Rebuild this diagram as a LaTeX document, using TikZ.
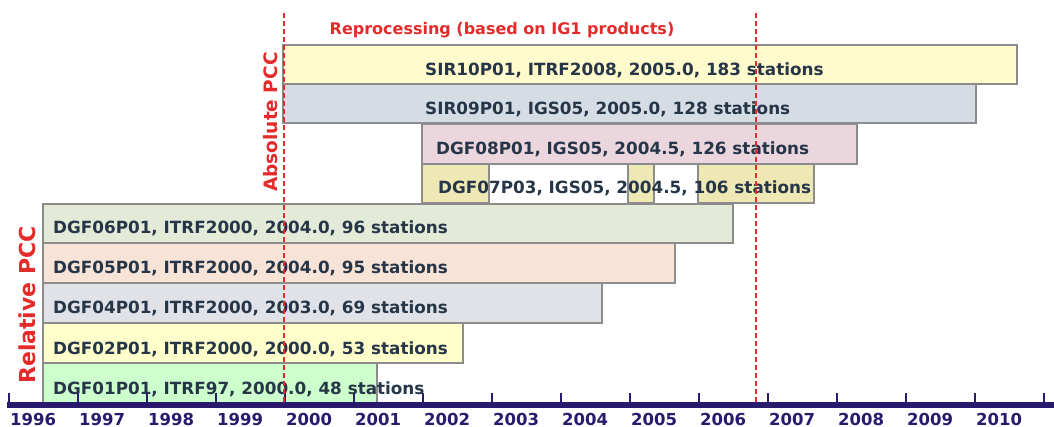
\documentclass[tikz,border=0pt]{standalone}
\usepackage{fontspec}
\setmainfont{DejaVu Sans}
\usetikzlibrary{calc}

\definecolor{axisblue}{HTML}{2A1A6E}
\definecolor{pccred}{HTML}{E32B2B}
\definecolor{bartext}{HTML}{263648}
\definecolor{barline}{HTML}{8C8C8C}
\definecolor{fillsirten}{HTML}{FFFBCC}
\definecolor{fillsirnine}{HTML}{D5DCE4}
\definecolor{filldgfeight}{HTML}{EAD6DC}
\definecolor{filldgfseven}{HTML}{EEE8B4}
\definecolor{filldgfsix}{HTML}{E3EAD8}
\definecolor{filldgffive}{HTML}{F8E4D6}
\definecolor{filldgffour}{HTML}{E0E2E8}
\definecolor{filldgftwo}{HTML}{FFFFCC}
\definecolor{filldgfone}{HTML}{CCFFCC}

\begin{document}
\begin{tikzpicture}[x=1pt, y=-1pt,
  bar/.style={draw=barline, line width=1.5pt},
  lbl/.style={anchor=base west, inner sep=0pt, text=bartext, font=\bfseries\fontsize{16.8}{20}\selectfont},
  pcc/.style={inner sep=0pt, text=pccred, rotate=90, font=\bfseries\fontsize{18.5}{22}\selectfont},
  yearlbl/.style={anchor=base west, inner sep=0pt, text=axisblue, font=\bfseries\fontsize{16.5}{19}\selectfont},
  divider/.style={draw=pccred, line width=2.2pt, dash pattern=on 5pt off 3pt}]
\useasboundingbox (0,0) rectangle (1054,427);

\coordinate (A) at (284,13);
\coordinate (B) at (284,404);
\coordinate (C) at (756,13);
\coordinate (D) at (756,404);

% reprocessing (absolute PCC)
\draw[bar, fill=fillsirten] (283,45) rectangle (1017,84);
\draw[bar, fill=fillsirnine] (283,84) rectangle (976,123);
\draw[bar, fill=filldgfeight] (422,124) rectangle (857,164);
\draw[bar, fill=filldgfseven] (422,164) rectangle (489,203);
\draw[bar, fill=filldgfseven] (628,164) rectangle (654,203);
\draw[bar, fill=filldgfseven] (698,164) rectangle (814,203);

% relative PCC
\draw[bar, fill=filldgfsix] (43,204) rectangle (733,243);
\draw[bar, fill=filldgffive] (43,243) rectangle (675,283);
\draw[bar, fill=filldgffour] (43,283) rectangle (602,323);
\draw[bar, fill=filldgftwo] (43,323) rectangle (463,363);
\draw[bar, fill=filldgfone] (43,363) rectangle (377,403);

\node[lbl] (sir10) at (425,76) {SIR10P01, ITRF2008, 2005.0, 183 stations};
\node[lbl] (sir09) at (425,115) {SIR09P01, IGS05, 2005.0, 128 stations};
\node[lbl] (dgf08) at (436,155) {DGF08P01, IGS05, 2004.5, 126 stations};
\node[lbl] (dgf07) at (438,194) {DGF07P03, IGS05, 2004.5, 106 stations};
\node[lbl] (dgf06) at (53,234) {DGF06P01, ITRF2000, 2004.0, 96 stations};
\node[lbl] (dgf05) at (53,274) {DGF05P01, ITRF2000, 2004.0, 95 stations};
\node[lbl] (dgf04) at (53,314) {DGF04P01, ITRF2000, 2003.0, 69 stations};
\node[lbl] (dgf02) at (53,354) {DGF02P01, ITRF2000, 2000.0, 53 stations};
\node[lbl] (dgf01) at (53,394) {DGF01P01, ITRF97, 2000.0, 48 stations};

\node[anchor=base, inner sep=0pt, text=pccred, font=\bfseries\fontsize{16}{19}\selectfont] (reproc) at (502,35) {Reprocessing (based on IG1 products)};
\node[pcc] (abspcc) at (271,122) {Absolute PCC};
\node[pcc, font=\bfseries\fontsize{22}{26}\selectfont] (relpcc) at (27,305) {Relative PCC};

% time axis
\draw[axisblue, line width=6pt] (7,405) -- (1054,405);
\foreach \yr [count=\i from 0] in {1996,...,2011} {
  \draw[axisblue, line width=2pt] ($(9,404)+(69*\i,0)$) -- ++(0,-11);
}
\foreach \yr [count=\i from 0] in {1996,...,2010} {
  \node[yearlbl] (y\yr) at ($(10,425)+(69*\i,0)$) {\yr};
}

\draw[divider] (A) -- (B);
\draw[divider] (C) -- (D);
\end{tikzpicture}
\end{document}
